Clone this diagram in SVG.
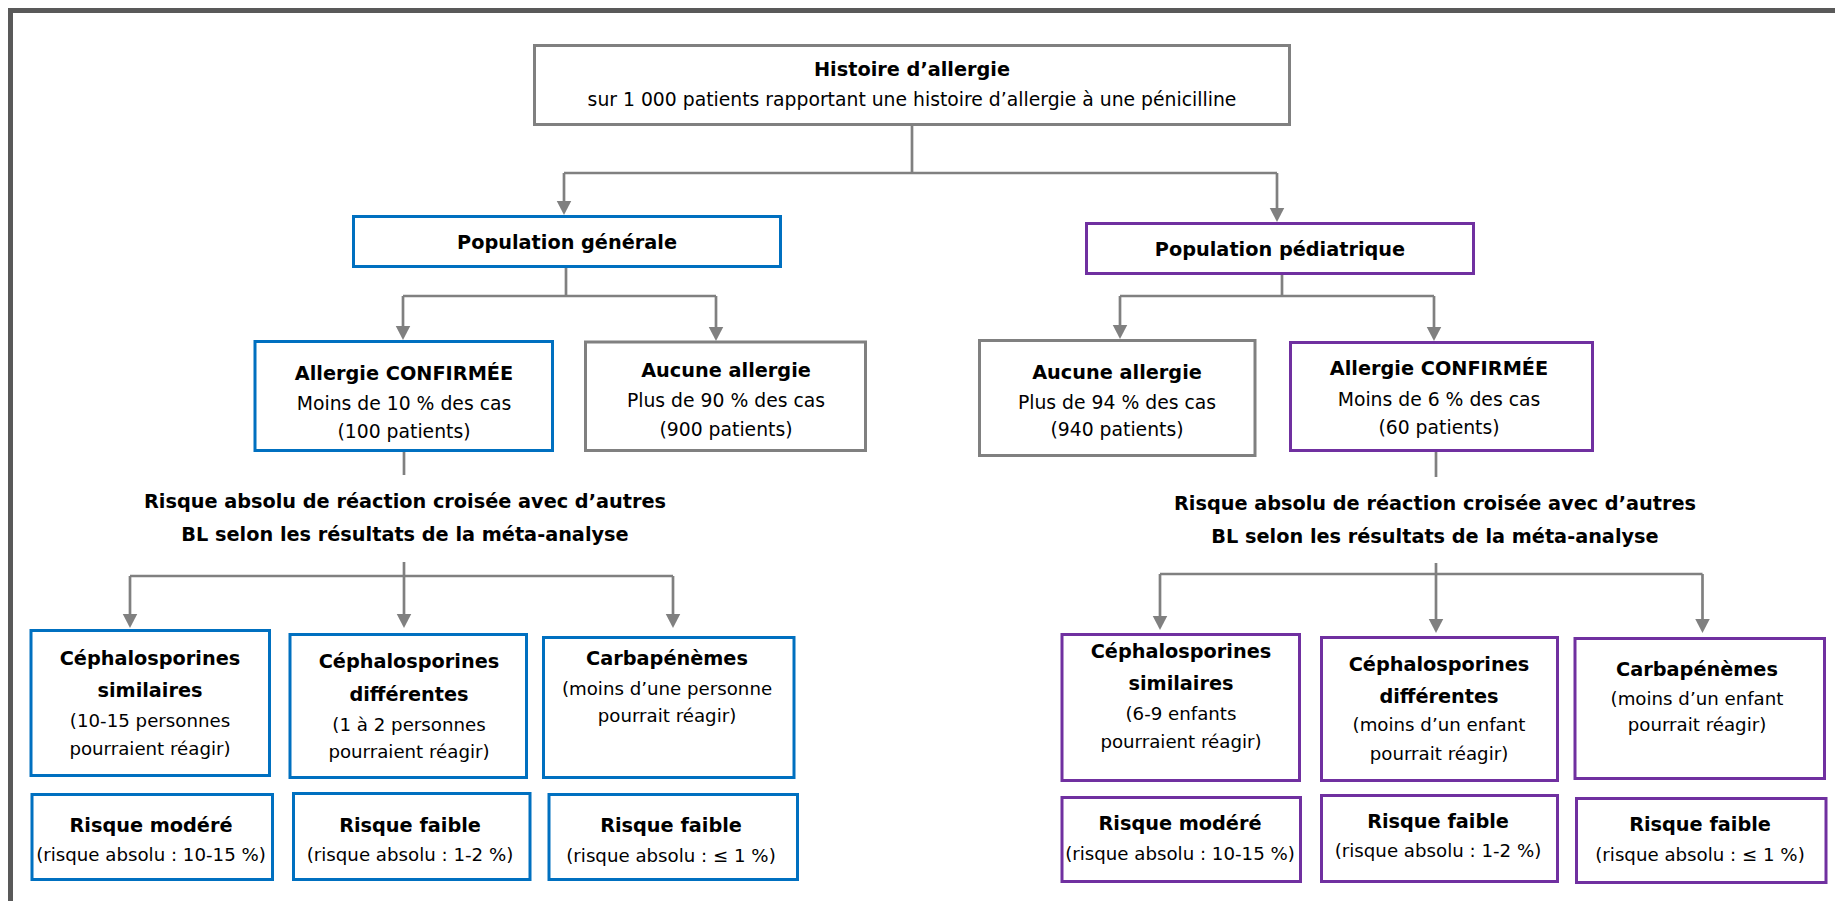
<svg xmlns="http://www.w3.org/2000/svg" width="1835" height="901" viewBox="0 0 1835 901">
<style>
text{font-family:"DejaVu Sans","Liberation Sans",sans-serif;fill:#000;text-anchor:middle}
.b{font-weight:bold;font-size:19.3px}
.r{font-size:18.8px}
.rs{font-size:18.2px}
.box{fill:#fff;stroke-width:3}
.g{stroke:#808080}
.bl{stroke:#0070C0}
.pu{stroke:#7030A0}
.c{fill:none;stroke:#808080;stroke-width:2.7}
</style>
<defs>
<marker id="ah" markerUnits="userSpaceOnUse" markerWidth="15" markerHeight="16" viewBox="0 0 15 16" refX="0.5" refY="8" orient="auto">
<path d="M0,0.5 L14.5,8 L0,15.5 Z" fill="#808080"/>
</marker>
</defs>
<rect width="1835" height="901" fill="#fff"/>
<path d="M10.5,901 V10.5 H1835" fill="none" stroke="#595959" stroke-width="5"/>

<g id="connectors">
<path class="c" d="M912,126 V173"/>
<path class="c" d="M564,173 H1277"/>
<path class="c" d="M564,173 V201" marker-end="url(#ah)"/>
<path class="c" d="M1277,173 V208" marker-end="url(#ah)"/>
<path class="c" d="M566,268 V296"/>
<path class="c" d="M403,296 H716"/>
<path class="c" d="M403,296 V326" marker-end="url(#ah)"/>
<path class="c" d="M716,296 V327" marker-end="url(#ah)"/>
<path class="c" d="M1282,275 V296"/>
<path class="c" d="M1120,296 H1434"/>
<path class="c" d="M1120,296 V325" marker-end="url(#ah)"/>
<path class="c" d="M1434,296 V327" marker-end="url(#ah)"/>
<path class="c" d="M404,452 V475"/>
<path class="c" d="M404,562 V614" marker-end="url(#ah)"/>
<path class="c" d="M130,576 H673"/>
<path class="c" d="M130,576 V614" marker-end="url(#ah)"/>
<path class="c" d="M673,576 V614" marker-end="url(#ah)"/>
<path class="c" d="M1436,452 V477"/>
<path class="c" d="M1436,563 V619" marker-end="url(#ah)"/>
<path class="c" d="M1160,574 H1702.5"/>
<path class="c" d="M1160,574 V616" marker-end="url(#ah)"/>
<path class="c" d="M1702.5,574 V619" marker-end="url(#ah)"/>
</g>

<g id="histoire">
<rect class="box g" x="534.5" y="45.5" width="755" height="79"/>
<text class="b" x="912" y="76">Histoire d’allergie</text>
<text class="r" x="912" y="106">sur 1 000 patients rapportant une histoire d’allergie à une pénicilline</text>
</g>

<g id="pop-generale">
<rect class="box bl" x="353.5" y="216.5" width="427" height="50"/>
<text class="b" x="567" y="249">Population générale</text>
</g>

<g id="pop-pediatrique">
<rect class="box pu" x="1086.5" y="223.5" width="387" height="50"/>
<text class="b" x="1280" y="256">Population pédiatrique</text>
</g>

<g id="gen-confirmee">
<rect class="box bl" x="255" y="341.5" width="297.5" height="109"/>
<text class="b" x="404" y="380">Allergie CONFIRMÉE</text>
<text class="r" x="404" y="410">Moins de 10 % des cas</text>
<text class="r" x="404" y="438">(100 patients)</text>
</g>

<g id="gen-aucune">
<rect class="box g" x="585.5" y="342" width="280" height="108.5"/>
<text class="b" x="726" y="377">Aucune allergie</text>
<text class="r" x="726" y="407">Plus de 90 % des cas</text>
<text class="r" x="726" y="436">(900 patients)</text>
</g>

<g id="ped-aucune">
<rect class="box g" x="979.5" y="340.5" width="275.5" height="115"/>
<text class="b" x="1117" y="379">Aucune allergie</text>
<text class="r" x="1117" y="409">Plus de 94 % des cas</text>
<text class="r" x="1117" y="436">(940 patients)</text>
</g>

<g id="ped-confirmee">
<rect class="box pu" x="1290.5" y="342.5" width="302" height="108"/>
<text class="b" x="1439" y="375">Allergie CONFIRMÉE</text>
<text class="r" x="1439" y="406">Moins de 6 % des cas</text>
<text class="r" x="1439" y="434">(60 patients)</text>
</g>

<g id="gen-risque-label">
<text class="b" x="405" y="508">Risque absolu de réaction croisée avec d’autres</text>
<text class="b" x="405" y="541">BL selon les résultats de la méta-analyse</text>
</g>

<g id="ped-risque-label">
<text class="b" x="1435" y="510">Risque absolu de réaction croisée avec d’autres</text>
<text class="b" x="1435" y="543">BL selon les résultats de la méta-analyse</text>
</g>

<g id="gen-ceph-sim">
<rect class="box bl" x="31" y="630.5" width="238.5" height="145"/>
<text class="b" x="150" y="665">Céphalosporines</text>
<text class="b" x="150" y="697">similaires</text>
<text class="rs" x="150" y="727">(10-15 personnes</text>
<text class="rs" x="150" y="755">pourraient réagir)</text>
</g>

<g id="gen-ceph-diff">
<rect class="box bl" x="290" y="634.5" width="236.5" height="143"/>
<text class="b" x="409" y="668">Céphalosporines</text>
<text class="b" x="409" y="701">différentes</text>
<text class="rs" x="409" y="731">(1 à 2 personnes</text>
<text class="rs" x="409" y="758">pourraient réagir)</text>
</g>

<g id="gen-carba">
<rect class="box bl" x="543.5" y="637.5" width="250.5" height="140"/>
<text class="b" x="667" y="665">Carbapénèmes</text>
<text class="rs" x="667" y="695">(moins d’une personne</text>
<text class="rs" x="667" y="722">pourrait réagir)</text>
</g>

<g id="gen-risque-modere">
<rect class="box bl" x="32" y="794.5" width="240.5" height="85"/>
<text class="b" x="151" y="832">Risque modéré</text>
<text class="rs" x="151" y="861">(risque absolu : 10-15 %)</text>
</g>

<g id="gen-risque-faible-1">
<rect class="box bl" x="293.5" y="793.5" width="236.5" height="86"/>
<text class="b" x="410" y="832">Risque faible</text>
<text class="rs" x="410" y="861">(risque absolu : 1-2 %)</text>
</g>

<g id="gen-risque-faible-2">
<rect class="box bl" x="549" y="794.5" width="248.5" height="85"/>
<text class="b" x="671" y="832">Risque faible</text>
<text class="rs" x="671" y="862">(risque absolu : ≤ 1 %)</text>
</g>

<g id="ped-ceph-sim">
<rect class="box pu" x="1062" y="634.5" width="237.5" height="146"/>
<text class="b" x="1181" y="658">Céphalosporines</text>
<text class="b" x="1181" y="690">similaires</text>
<text class="rs" x="1181" y="720">(6-9 enfants</text>
<text class="rs" x="1181" y="748">pourraient réagir)</text>
</g>

<g id="ped-ceph-diff">
<rect class="box pu" x="1321.5" y="637.5" width="236" height="143"/>
<text class="b" x="1439" y="671">Céphalosporines</text>
<text class="b" x="1439" y="703">différentes</text>
<text class="rs" x="1439" y="731">(moins d’un enfant</text>
<text class="rs" x="1439" y="760">pourrait réagir)</text>
</g>

<g id="ped-carba">
<rect class="box pu" x="1575" y="638.5" width="249.5" height="140"/>
<text class="b" x="1697" y="676">Carbapénèmes</text>
<text class="rs" x="1697" y="705">(moins d’un enfant</text>
<text class="rs" x="1697" y="731">pourrait réagir)</text>
</g>

<g id="ped-risque-modere">
<rect class="box pu" x="1062" y="797.5" width="238.5" height="84"/>
<text class="b" x="1180" y="830">Risque modéré</text>
<text class="rs" x="1180" y="860">(risque absolu : 10-15 %)</text>
</g>

<g id="ped-risque-faible-1">
<rect class="box pu" x="1321.5" y="795.5" width="236" height="86"/>
<text class="b" x="1438" y="828">Risque faible</text>
<text class="rs" x="1438" y="857">(risque absolu : 1-2 %)</text>
</g>

<g id="ped-risque-faible-2">
<rect class="box pu" x="1576.5" y="798.5" width="249.5" height="84"/>
<text class="b" x="1700" y="831">Risque faible</text>
<text class="rs" x="1700" y="861">(risque absolu : ≤ 1 %)</text>
</g>
</svg>
